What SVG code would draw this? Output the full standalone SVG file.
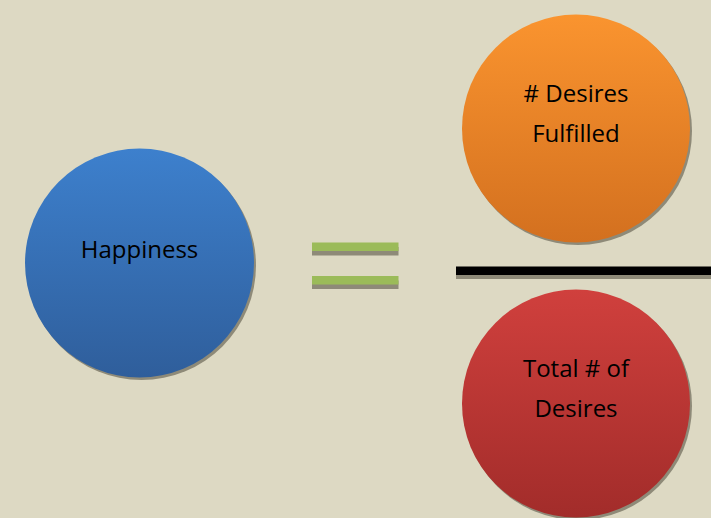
<svg xmlns="http://www.w3.org/2000/svg" width="711" height="518" viewBox="0 0 711 518">
<defs>
<linearGradient id="gBlue" x1="0" y1="0" x2="0" y2="1"><stop offset="0" stop-color="#3d80cd"/><stop offset="1" stop-color="#2f5e9b"/></linearGradient>
<linearGradient id="gOrange" x1="0" y1="0" x2="0" y2="1"><stop offset="0" stop-color="#fa942f"/><stop offset="1" stop-color="#d3701f"/></linearGradient>
<linearGradient id="gRed" x1="0" y1="0" x2="0" y2="1"><stop offset="0" stop-color="#d0403d"/><stop offset="1" stop-color="#a22c2a"/></linearGradient>
</defs>
<style>
.shadow{fill:#8e8a78}
.lbl{font-family:"Open Sans","Liberation Sans",sans-serif;font-size:24px;fill:#000;text-anchor:middle}
</style>
<rect width="711" height="518" fill="#ddd9c3"/>
<g id="happiness">
<circle class="shadow" cx="141.5" cy="265.5" r="114.5"/>
<circle cx="139.5" cy="263" r="114.5" fill="url(#gBlue)"/>
<text class="lbl" x="139.5" y="258">Happiness</text>
</g>
<g id="equals">
<rect class="shadow" x="312" y="247" width="86.5" height="8.5"/>
<rect x="312" y="242.5" width="86.5" height="8.5" fill="#9bbb59"/>
<rect class="shadow" x="312" y="280.5" width="86.5" height="8.5"/>
<rect x="312" y="276" width="86.5" height="8.5" fill="#9bbb59"/>
</g>
<g id="fraction-bar">
<rect class="shadow" x="456" y="271" width="255" height="8"/>
<rect x="456" y="266.5" width="255" height="8.5" fill="#000"/>
</g>
<g id="fulfilled">
<circle class="shadow" cx="578" cy="131" r="114"/>
<circle cx="576" cy="128.5" r="114" fill="url(#gOrange)"/>
<text class="lbl" x="576" y="101.5"># Desires</text>
<text class="lbl" x="576" y="141.5">Fulfilled</text>
</g>
<g id="total">
<circle class="shadow" cx="578" cy="406" r="114"/>
<circle cx="576" cy="403.5" r="114" fill="url(#gRed)"/>
<text class="lbl" x="576" y="376.5">Total # of</text>
<text class="lbl" x="576" y="416.5">Desires</text>
</g>
</svg>
